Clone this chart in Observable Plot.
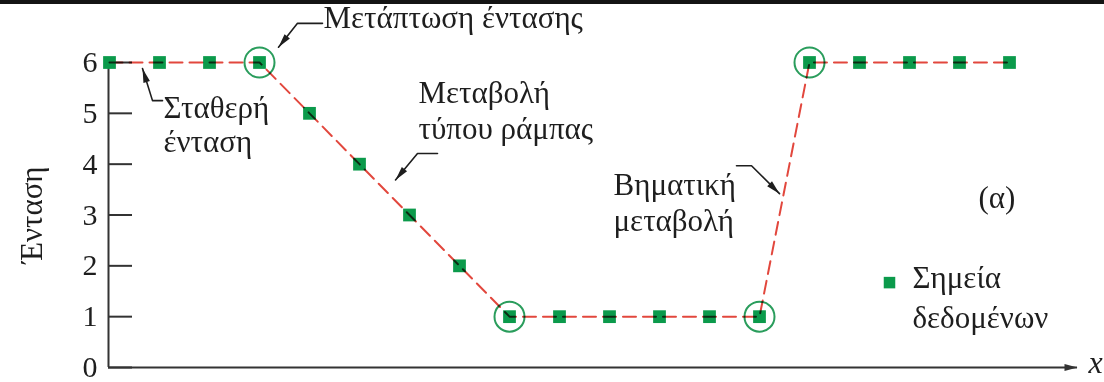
<!DOCTYPE html>
<html>
<head>
<meta charset="utf-8">
<script src="https://cdn.jsdelivr.net/npm/d3@7"></script>
<script src="https://cdn.jsdelivr.net/npm/@observablehq/plot@0.6"></script>
<style>
  body { margin: 0; background: #fff; }
  #chart { position: absolute; left: 0; top: 0; }
  #chart svg, #chart svg text { font-family: "Liberation Serif", "Times New Roman", "DejaVu Serif", serif; }
  #band { position: absolute; left: 0; top: 0; width: 1104px; height: 4px; background: #141414; }
</style>
</head>
<body>
<div id="chart"></div>
<div id="band"></div>
<script>
// Sample index along x and the measured intensity at each sample
const sampleIndex = [0, 1, 2, 3, 4, 5, 6, 7, 8, 9, 10, 11, 12, 13, 14, 15, 16, 17, 18];
const intensity   = [6, 6, 6, 6, 5, 4, 3, 2, 1, 1, 1, 1, 1, 1, 6, 6, 6, 6, 6];

// Samples where the intensity changes regime (circled)
const transitionIndex = [3, 8, 13, 14];

const yTickValues = [0, 1, 2, 3, 4, 5, 6];
const yLabel = "Ένταση";
const xLabel = "x";

// Annotation text lines: left edge (x) and line centre (y) in data units
const noteText = ["Μετάπτωση έντασης", "Σταθερή", "ένταση", "Μεταβολή", "τύπου ράμπας", "Βηματική", "μεταβολή", "(α)"];
const noteX    = [4.28, 1.08, 1.08, 6.18, 6.18, 10.08, 10.08, 17.38];
const noteY    = [6.87, 5.10, 4.43, 5.39, 4.70, 3.58, 2.89, 3.34];

// Leader lines for the annotations: each is a bend point list ending at the arrow tip
const leaderId = ["m", "m", "m", "s", "s", "s", "r", "r", "r", "b", "b", "b"];
const leaderX  = [4.26, 3.76, 3.38, 1.06, 0.86, 0.66, 6.56, 6.16, 5.72, 12.54, 12.84, 13.40];
const leaderY  = [6.77, 6.77, 6.30, 5.25, 5.25, 5.88, 4.21, 4.21, 3.69, 3.97, 3.97, 3.42];

// Legend entry
const legendSymbolX = 15.6, legendSymbolY = 1.67;
const legendText = ["Σημεία", "δεδομένων"];
const legendTextX = [16.06, 16.06];
const legendTextY = [1.75, 0.98];

const W = 1104, H = 382;
const mL = 108, mR = 27, mT = 62, mB = 15;
const xDomain = [-0.02, 19.36];
const yDomain = [0, 6];
const kx = (W - mL - mR) / (xDomain[1] - xDomain[0]);
const ky = (H - mT - mB) / (yDomain[1] - yDomain[0]);

const green = "#0b9a4b";
const ringGreen = "#2a9d5c";
const red = "#e2473d";
const ink = "#1e1e1e";
const serif = "Liberation Serif, Times New Roman, DejaVu Serif, serif";
const fs = 31;
const tickFs = 30;

const points = sampleIndex.map((x, i) => ({x, y: intensity[i]}));
const rings = points.filter(d => transitionIndex.includes(d.x));
const notes = noteText.map((t, i) => ({t, x: noteX[i], y: noteY[i]}));
const leaders = leaderId.map((id, i) => ({id, x: leaderX[i], y: leaderY[i]}));
const legendRows = legendText.map((t, i) => ({t, x: legendTextX[i], y: legendTextY[i]}));

// Arrow tips with their screen heading (degrees clockwise from up)
const tips = d3.groups(leaders, d => d.id).map(([, pts]) => {
  const a = pts[pts.length - 2], b = pts[pts.length - 1];
  const dx = (b.x - a.x) * kx, dy = -(b.y - a.y) * ky;
  return {x: b.x, y: b.y, rotate: Math.atan2(dx, -dy) * 180 / Math.PI};
});

const chart = Plot.plot({
  width: W,
  height: H,
  marginLeft: mL,
  marginRight: mR,
  marginTop: mT,
  marginBottom: mB,
  style: {fontFamily: serif, color: ink, background: "#fff", overflow: "visible"},
  x: {domain: xDomain, axis: null},
  y: {domain: yDomain, axis: null},
  marks: [
    // axes
    Plot.ruleX([xDomain[0]], {stroke: "#333", strokeWidth: 2}),
    Plot.ruleY([0], {stroke: "#333", strokeWidth: 2}),
    Plot.vector([xLabel], {x: xDomain[1], y: 0, length: 13, r: 3.5, rotate: 90, shape: "spike", anchor: "end", fill: "#333", stroke: "none"}),
    Plot.text([xLabel], {x: xDomain[1], y: 0, dx: 18, dy: -5, fontFamily: serif, fontStyle: "italic", fontSize: 32, fill: ink, textAnchor: "middle"}),
    Plot.axisY(yTickValues, {tickSize: 0, tickPadding: 11, tickFormat: d3.format("d"), fontFamily: serif, fontSize: tickFs, fill: ink, label: null}),
    Plot.axisY(yTickValues, {tickSize: -24, text: null, label: null, stroke: "#333", strokeWidth: 2}),
    Plot.text([yLabel], {frameAnchor: "left", rotate: -90, dx: -76, fontFamily: serif, fontSize: fs, fill: ink, textAnchor: "middle"}),

    // data
    Plot.dot(rings, {x: "x", y: "y", r: 15, stroke: ringGreen, strokeWidth: 2, fill: "none"}),
    Plot.dot(points, {x: "x", y: "y", symbol: "square", r: 7.2, fill: green}),
    Plot.line(points, {x: "x", y: "y", stroke: red, strokeWidth: 2, strokeDasharray: "13,7", mixBlendMode: "multiply"}),

    // annotations
    Plot.line(leaders, {x: "x", y: "y", z: "id", stroke: ink, strokeWidth: 1.6}),
    Plot.vector(tips, {x: "x", y: "y", rotate: "rotate", length: 14, r: 3.4, shape: "spike", anchor: "end", fill: ink, stroke: "none"}),
    Plot.text(notes, {x: "x", y: "y", text: "t", textAnchor: "start", fontFamily: serif, fontSize: fs, fill: ink}),

    // legend
    Plot.dot([legendText[0]], {x: legendSymbolX, y: legendSymbolY, symbol: "square", r: 6.5, fill: green}),
    Plot.text(legendRows, {x: "x", y: "y", text: "t", textAnchor: "start", fontFamily: serif, fontSize: fs, fill: ink})
  ]
});

document.getElementById("chart").append(chart);
</script>
</body>
</html>
